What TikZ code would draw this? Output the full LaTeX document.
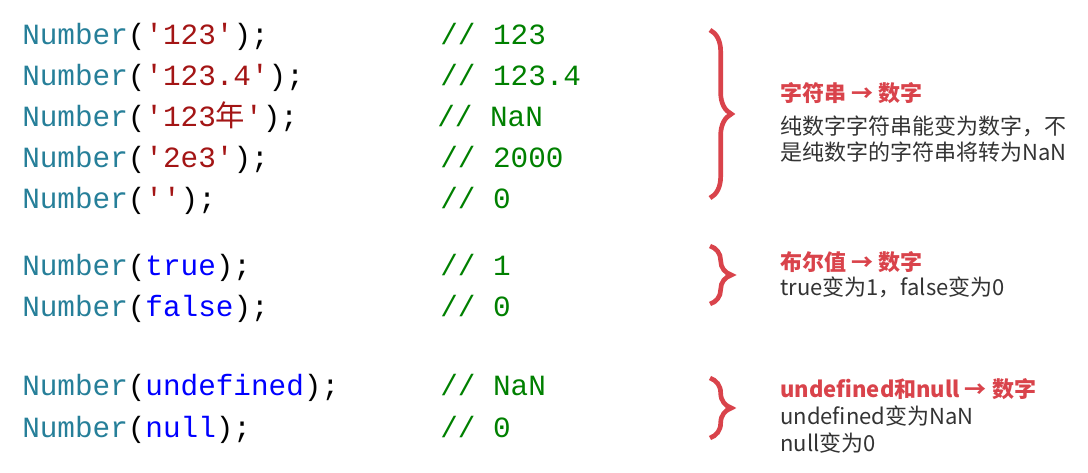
\documentclass[tikz,border=0pt]{standalone}
\usepackage{fontspec}
\usetikzlibrary{decorations.pathreplacing}
\setmonofont{Liberation Mono}
\newfontfamily\cjk{Noto Sans CJK SC}
\definecolor{fn}{HTML}{267F99}
\definecolor{st}{HTML}{A31515}
\definecolor{kw}{HTML}{0000FF}
\definecolor{cm}{HTML}{008000}
\definecolor{br}{HTML}{D9434B}
\definecolor{ds}{HTML}{333333}
\newcommand{\F}{\textcolor{fn}{Number}(}
\begin{document}
\begin{tikzpicture}[x=0.75pt,y=-0.75pt,
 code/.style={anchor=base west,inner sep=0pt,font=\ttfamily\fontsize{22}{26}\selectfont},
 ttl/.style={anchor=base west,inner sep=0pt,font=\cjk\bfseries\fontsize{16.5}{20}\selectfont,text=br},
 dsc/.style={anchor=base west,inner sep=0pt,font=\cjk\fontsize{16.5}{20}\selectfont,text=ds},
 brc/.style={draw=br,line width=3.5pt,decorate,decoration={brace,amplitude=16pt}}]
\useasboundingbox (0,0) rectangle (1088,473);
\node[code] (c1) at (22,45) {\F\textcolor{st}{'123'});};
\node[code] (c2) at (22,86) {\F\textcolor{st}{'123.4'});};
\node[code] (c3) at (22,127) {\F\textcolor{st}{'123{\cjk 年}'});};
\node[code] (c4) at (22,168) {\F\textcolor{st}{'2e3'});};
\node[code] (c5) at (22,209) {\F\textcolor{st}{''});};
\node[code] (c6) at (22,276) {\F\textcolor{kw}{true});};
\node[code] (c7) at (22,317) {\F\textcolor{kw}{false});};
\node[code] (c8) at (22,396) {\F\textcolor{kw}{undefined});};
\node[code] (c9) at (22,437) {\F\textcolor{kw}{null});};
\node[code,text=cm] (m1) at (440,45) {// 123};
\node[code,text=cm] (m2) at (440,86) {// 123.4};
\node[code,text=cm] (m3) at (437,127) {// NaN};
\node[code,text=cm] (m4) at (440,168) {// 2000};
\node[code,text=cm] (m5) at (440,209) {// 0};
\node[code,text=cm] (m6) at (440,276) {// 1};
\node[code,text=cm] (m7) at (440,317) {// 0};
\node[code,text=cm] (m8) at (440,396) {// NaN};
\node[code,text=cm] (m9) at (440,437) {// 0};
\draw[brc] (710,30) -- (710,198);
\draw[brc] (710,246) -- (710,304);
\draw[brc] (710,378) -- (710,438);
\node[ttl] (t1) at (780,102) {字符串 → 数字};
\node[dsc] (d1) at (780,135) {纯数字字符串能变为数字，不};
\node[dsc] (d1b) at (780,161) {是纯数字的字符串将转为NaN};
\node[ttl] (t2) at (780,271) {布尔值 → 数字};
\node[dsc] (d2) at (780,296) {true变为1，false变为0};
\node[ttl] (t3) at (780,398) {undefined和null → 数字};
\node[dsc] (d3) at (780,425) {undefined变为NaN};
\node[dsc] (d3b) at (780,451) {null变为0};
\end{tikzpicture}
\end{document}
